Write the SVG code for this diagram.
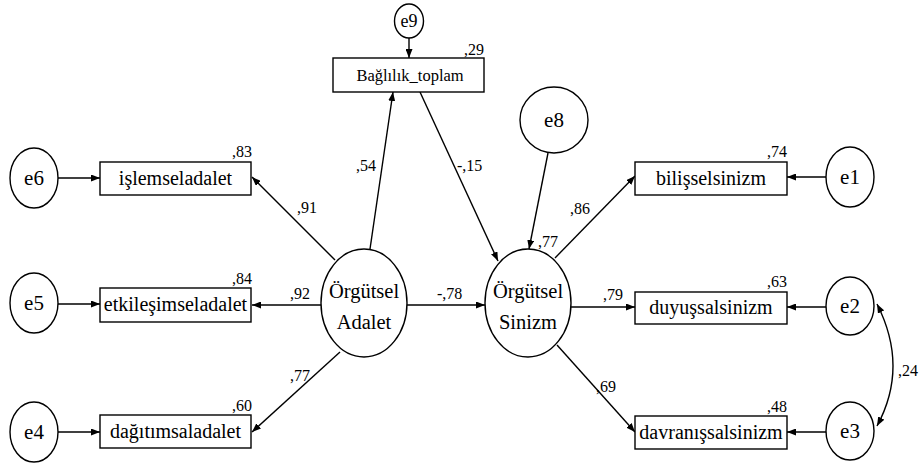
<svg xmlns="http://www.w3.org/2000/svg" width="919" height="464" viewBox="0 0 919 464" font-family="'Liberation Serif', 'Times New Roman', 'DejaVu Serif', serif">
<defs>
<marker id="ah" markerWidth="9" markerHeight="7" refX="9" refY="3.5" orient="auto" markerUnits="userSpaceOnUse">
<path d="M0,0 L9,3.5 L0,7 Z" fill="#000"/>
</marker>
<marker id="ahs" markerWidth="9" markerHeight="7" refX="0" refY="3.5" orient="auto" markerUnits="userSpaceOnUse">
<path d="M9,0 L0,3.5 L9,7 Z" fill="#000"/>
</marker>
<style>
.n{fill:#fff;stroke:#000;stroke-width:1.4}
text{font-family:'Liberation Serif','Times New Roman','DejaVu Serif',serif;fill:#000}
.obs{font-size:20px;text-anchor:middle}
.lat{font-size:20.5px;text-anchor:middle}
.err{font-size:21px;text-anchor:middle}
.v{font-size:16px}
.e{text-anchor:end}
.c{stroke:#000;stroke-width:1.4;fill:none;marker-end:url(#ah)}
</style>
</defs>
<rect width="919" height="464" fill="#fff"/>
<g id="connectors">
<line class="c" x1="409" y1="38" x2="409" y2="58"/>
<line class="c" x1="58" y1="178" x2="100" y2="178"/>
<line class="c" x1="58" y1="304" x2="100" y2="304"/>
<line class="c" x1="58" y1="432" x2="100" y2="432"/>
<line class="c" x1="335" y1="260" x2="252" y2="177"/>
<line class="c" x1="321" y1="305" x2="252" y2="305"/>
<line class="c" x1="340" y1="352" x2="252" y2="432"/>
<line class="c" x1="370" y1="249" x2="393" y2="92"/>
<line class="c" x1="420" y1="92" x2="498" y2="261"/>
<line class="c" x1="548" y1="153" x2="529" y2="249"/>
<line class="c" x1="407" y1="305" x2="485" y2="305"/>
<line class="c" x1="555" y1="258" x2="635" y2="176"/>
<line class="c" x1="571" y1="307" x2="635" y2="307"/>
<line class="c" x1="557" y1="345" x2="635" y2="432"/>
<line class="c" x1="827" y1="177" x2="787" y2="177"/>
<line class="c" x1="827" y1="307" x2="787" y2="307"/>
<line class="c" x1="827" y1="432" x2="787" y2="432"/>
<path class="c" d="M877,304 Q909,367 877,426" marker-start="url(#ahs)"/>
</g>
<g id="e9"><ellipse class="n" cx="409" cy="21" rx="14.5" ry="17"/><text class="err" x="409" y="27" style="font-size:18px">e9</text></g>
<g id="baglilik"><rect class="n" x="333" y="58" width="151" height="34"/><text class="obs" x="410" y="81" style="font-size:16.5px">Bağlılık_toplam</text><text class="v e" x="484" y="55">,29</text></g>
<g id="e8"><ellipse class="n" cx="554" cy="120" rx="34" ry="33"/><text class="err" x="554" y="127">e8</text></g>
<g id="e6"><ellipse class="n" cx="34" cy="178" rx="24" ry="30"/><text class="err" x="34" y="185">e6</text></g>
<g id="e5"><ellipse class="n" cx="34" cy="303" rx="24" ry="30"/><text class="err" x="34" y="310">e5</text></g>
<g id="e4"><ellipse class="n" cx="34" cy="432" rx="24" ry="30"/><text class="err" x="34" y="439">e4</text></g>
<g id="islemseladalet"><rect class="n" x="100" y="162" width="151" height="33"/><text class="obs" x="175.5" y="185">işlemseladalet</text><text class="v e" x="252" y="157">,83</text></g>
<g id="etkilesimseladalet"><rect class="n" x="100" y="288" width="151" height="34"/><text class="obs" x="175.5" y="311">etkileşimseladalet</text><text class="v e" x="252" y="284">,84</text></g>
<g id="dagitimsaladalet"><rect class="n" x="100" y="415" width="151" height="33"/><text class="obs" x="175.5" y="438">dağıtımsaladalet</text><text class="v e" x="252" y="411">,60</text></g>
<g id="adalet"><ellipse class="n" cx="364" cy="303" rx="43" ry="54"/><text class="lat" x="364" y="298">Örgütsel</text><text class="lat" x="364" y="329">Adalet</text></g>
<g id="sinizm"><ellipse class="n" cx="528" cy="303" rx="43" ry="54"/><text class="lat" x="528" y="298">Örgütsel</text><text class="lat" x="528" y="329">Sinizm</text><text class="v" x="538" y="247">,77</text></g>
<g id="bilisselsinizm"><rect class="n" x="635" y="162" width="152" height="33"/><text class="obs" x="711" y="185">bilişselsinizm</text><text class="v e" x="787" y="157">,74</text></g>
<g id="duyussalsinizm"><rect class="n" x="635" y="292" width="152" height="32"/><text class="obs" x="711" y="314">duyuşsalsinizm</text><text class="v e" x="787" y="287">,63</text></g>
<g id="davranissalsinizm"><rect class="n" x="635" y="416" width="152" height="33"/><text class="obs" x="711" y="439">davranışsalsinizm</text><text class="v e" x="787" y="412">,48</text></g>
<g id="e1"><ellipse class="n" cx="850" cy="177" rx="24" ry="30"/><text class="err" x="850" y="184">e1</text></g>
<g id="e2"><ellipse class="n" cx="850" cy="306" rx="24" ry="29"/><text class="err" x="850" y="313">e2</text></g>
<g id="e3"><ellipse class="n" cx="850" cy="431" rx="24" ry="29"/><text class="err" x="850" y="438">e3</text></g>
<g id="labels">
<text class="v" x="297" y="213">,91</text>
<text class="v" x="290" y="299">,92</text>
<text class="v" x="290" y="381">,77</text>
<text class="v" x="356" y="171">,54</text>
<text class="v" x="457" y="171">-,15</text>
<text class="v" x="437" y="299">-,78</text>
<text class="v" x="570" y="214">,86</text>
<text class="v" x="603" y="300">,79</text>
<text class="v" x="596" y="392">,69</text>
<text class="v" x="898" y="376">,24</text>
</g>
</svg>
